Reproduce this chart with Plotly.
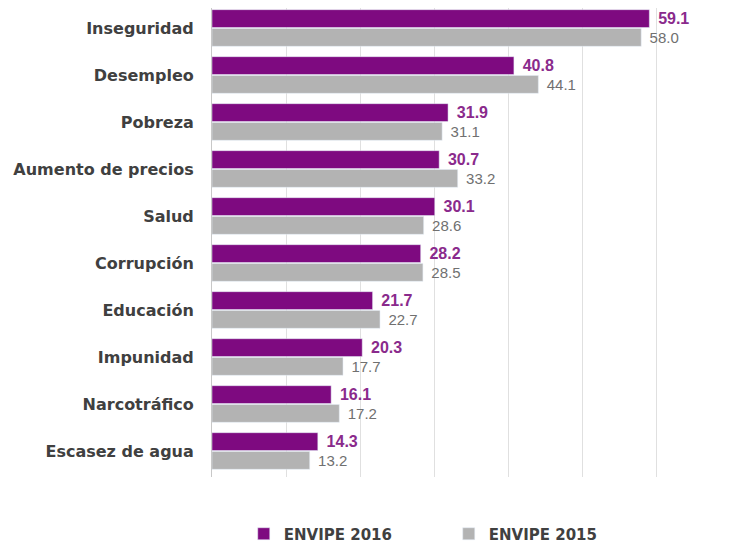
import plotly.graph_objects as go

categories = ["Inseguridad", "Desempleo", "Pobreza", "Aumento de precios", "Salud",
              "Corrupción", "Educación", "Impunidad", "Narcotráfico", "Escasez de agua"]
envipe_2016 = [59.1, 40.8, 31.9, 30.7, 30.1, 28.2, 21.7, 20.3, 16.1, 14.3]
envipe_2015 = [58.0, 44.1, 31.1, 33.2, 28.6, 28.5, 22.7, 17.7, 17.2, 13.2]

purple = "#7e0a80"
gray = "#b3b3b3"
gap = "\u00a0\u200a"

fig = go.Figure()
fig.add_trace(go.Bar(
    y=categories, x=envipe_2016, orientation="h", name="ENVIPE 2016",
    marker=dict(color=purple), texttemplate=gap + "%{x:.1f}", textposition="outside",
    textfont=dict(family="Liberation Sans, Arial", size=16, color="#8a2a8c", weight="bold"),
    cliponaxis=False,
))
fig.add_trace(go.Bar(
    y=categories, x=envipe_2015, orientation="h", name="ENVIPE 2015",
    marker=dict(color=gray), texttemplate=gap + "%{x:.1f}", textposition="outside",
    textfont=dict(family="Liberation Sans, Arial", size=15, color="#707070"),
    cliponaxis=False,
))

fig.update_layout(
    width=740, height=538,
    margin=dict(l=204, r=55, t=0, b=69, autoexpand=False),
    barmode="group", bargap=0.2, bargroupgap=0.05,
    plot_bgcolor="white", paper_bgcolor="white",
    font=dict(family="DejaVu Sans", color="#404040"),
    showlegend=True,
    legend=dict(orientation="h", x=0.066, xanchor="left", y=-0.1215, yanchor="middle",
                entrywidth=160, entrywidthmode="pixels", itemwidth=30,
                font=dict(family="DejaVu Sans", size=15, color="#404040", weight="bold")),
)
fig.update_xaxes(range=[0, 65], showticklabels=False, showgrid=True, gridcolor="#e0e0e0",
                 gridwidth=1, dtick=10, zeroline=False, showline=False, ticks="",
                 automargin=False)
fig.update_yaxes(range=[9.553, -0.4255], showline=True, linecolor="#c8c8c8", linewidth=1,
                 ticks="", ticklabelstandoff=14, automargin=False,
                 tickfont=dict(family="DejaVu Sans", size=16, color="#404040", weight="bold"))

fig.write_html("out.html")
